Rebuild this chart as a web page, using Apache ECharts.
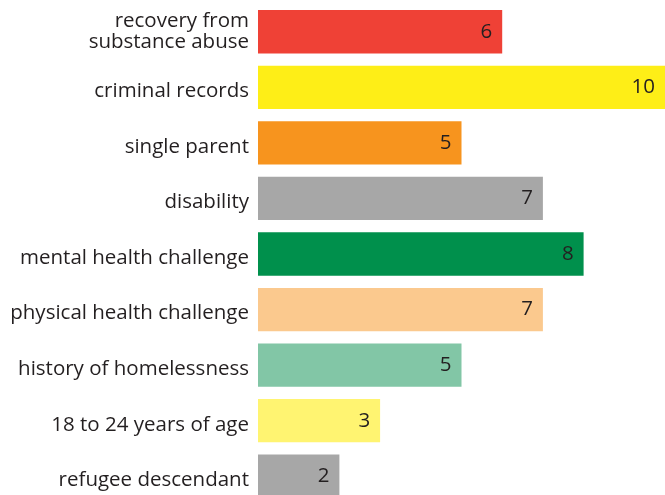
<!DOCTYPE html>
<html><head><meta charset="utf-8">
<script src="https://cdn.jsdelivr.net/npm/echarts@6/dist/echarts.min.js"></script>
<style>html,body{margin:0;padding:0;background:#fff;overflow:hidden}#c{width:665px;height:504px}</style>
</head><body><div id="c"></div>
<script>
const categories = ["recovery from\nsubstance abuse","criminal records","single parent","disability","mental health challenge","physical health challenge","history of homelessness","18 to 24 years of age","refugee descendant"];
const values = [6,10,5,7,8,7,5,3,2];
const colors = ["#EF4136","#FEEE17","#F7941E","#A7A7A7","#00904C","#FBC98E","#82C6A6","#FFF471","#A7A7A7"];
const chart = echarts.init(document.getElementById('c'));
chart.setOption({
  animation:false,
  grid:{left:258,right:0,top:4,bottom:0,containLabel:false},
  xAxis:{type:'value',min:0,max:10,show:false},
  yAxis:{type:'category',inverse:true,data:categories,
    axisLine:{show:false},axisTick:{show:false},
    axisLabel:{margin:9,fontSize:20.5,color:'#231F20',fontFamily:'Open Sans',lineHeight:21,
      formatter:v=>v.indexOf('\n')>=0?v:'{s|'+v+'}',
      rich:{s:{fontSize:20.5,color:'#231F20',fontFamily:'Open Sans',padding:[8,0,0,0]}}}},
  series:[{type:'bar',barCategoryGap:'22%',
    data:values.map((v,i)=>({value:v,itemStyle:{color:colors[i]}})),
    label:{show:true,position:'insideRight',distance:10,fontSize:20.5,color:'#231F20',fontFamily:'Open Sans'}}]
});
</script></body></html>
